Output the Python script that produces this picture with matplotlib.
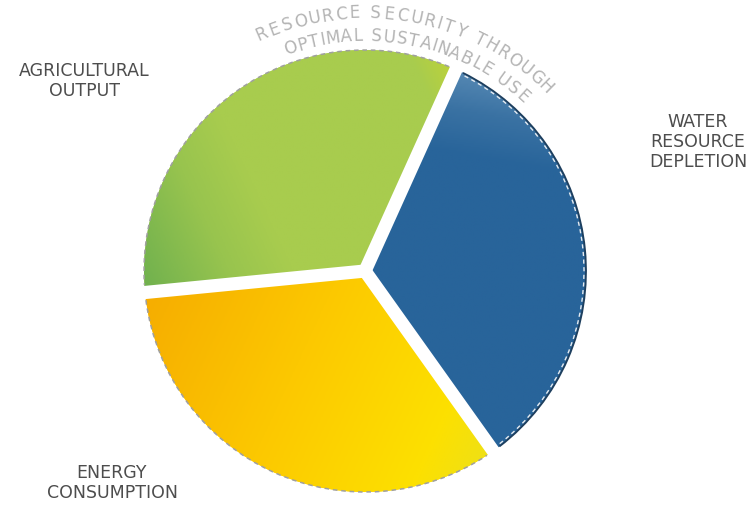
import numpy as np
import matplotlib
matplotlib.use("Agg")
import matplotlib.pyplot as plt
from matplotlib.patches import Arc
from matplotlib.colors import LinearSegmentedColormap

# slice data (clockwise from the top-right boundary)
categories = ["WATER\nRESOURCE\nDEPLETION", "ENERGY\nCONSUMPTION", "AGRICULTURAL\nOUTPUT"]
shares = [33.4, 33.3, 33.3]
arc_lines = ["RESOURCE SECURITY THROUGH", "OPTIMAL SUSTAINABLE USE"]

W, H = 755, 505
cx, cy = 365, H - 271
R = 221

fig = plt.figure(figsize=(W / 100, H / 100), dpi=100)
ax = fig.add_axes([0, 0, 1, 1])

wedges, _ = ax.pie(shares, startangle=65.7, counterclock=False,
                   center=(cx, cy), radius=R, colors=["#28649a", "#fbcc00", "#a8cc4e"],
                   wedgeprops=dict(linewidth=0))
ax.set_xlim(0, W)
ax.set_ylim(0, H)
ax.set_aspect("equal")
ax.axis("off")


def gradient(wedge, stops, angle_deg):
    # linear colour gradient clipped to the wedge
    cmap = LinearSegmentedColormap.from_list("g", stops)
    n = 300
    xs = np.linspace(cx - R, cx + R, n)
    ys = np.linspace(cy - R, cy + R, n)
    X, Y = np.meshgrid(xs, ys)
    a = np.deg2rad(angle_deg)
    t = ((X - cx) * np.cos(a) + (Y - cy) * np.sin(a)) / (2 * R) + 0.5
    t = np.clip(t, 0, 1)
    im = ax.imshow(cmap(t), extent=(cx - R, cx + R, cy - R, cy + R), origin="lower",
                   interpolation="bilinear", zorder=2)
    im.set_clip_path(wedge)


gradient(wedges[0], [(0, "#28649a"), (0.8, "#28649a"), (0.9, "#3a72a3"), (1, "#5a8cb6")], 80)
gradient(wedges[1], [(0, "#f5a800"), (0.45, "#fcc800"), (0.8, "#fde000"), (1, "#e8e020")], -25)
gradient(wedges[2], [(0, "#6aae4e"), (0.22, "#98c44e"), (0.35, "#a8cc4e"),
                     (0.8, "#a8cc4e"), (1, "#dcdc1c")], 25)

# white gaps between slices
for w in wedges:
    a = np.deg2rad(w.theta1)
    ax.plot([cx, cx + (R + 8) * np.cos(a)], [cy, cy + (R + 8) * np.sin(a)],
            color="white", lw=9.5, solid_capstyle="round", zorder=3)

# rims: dark edge with light dashes on the blue slice, grey dashes elsewhere
b = wedges[0]
ax.add_patch(Arc((cx, cy), 2 * R, 2 * R, theta1=b.theta1 + 2, theta2=b.theta2 - 2,
                 lw=1.3, color="#1e3f5e", zorder=4))
ax.add_patch(Arc((cx, cy), 2 * R - 4, 2 * R - 4, theta1=b.theta1 + 2.5, theta2=b.theta2 - 2.5,
                 ls=(0, (3, 2.5)), lw=1.0, color="#e6ebf0", zorder=4))
for w in wedges[1:]:
    ax.add_patch(Arc((cx, cy), 2 * R, 2 * R, theta1=w.theta1 + 2, theta2=w.theta2 - 2,
                     ls=(0, (3, 2.5)), lw=1.1, color="#a0a0a0", zorder=4))

# outer labels
lab_font = dict(fontsize=12.5, color="#4d4d4d", ha="center", va="center",
                multialignment="center", linespacing=1.15, family="DejaVu Sans")
ax.text(698, H - 142, categories[0], **lab_font)
ax.text(112, H - 483, categories[1], **lab_font)
ax.text(84, H - 81, categories[2], **lab_font)

# curved text along the top of the pie
narrow = {"I": 0.45, " ": 0.55, "M": 1.15, "L": 0.85, "T": 0.95}
arc_specs = [(arc_lines[0], 258, 113.5, 45.5), (arc_lines[1], 235, 108.5, 48.0)]
for line, rad, a_start, a_end in arc_specs:
    widths = np.array([narrow.get(ch, 1.0) for ch in line])
    centers = np.cumsum(widths) - widths / 2
    centers = (centers - centers[0]) / (centers[-1] - centers[0])
    for ch, f in zip(line, centers):
        ang = a_start + (a_end - a_start) * f
        a = np.deg2rad(ang)
        ax.text(cx + rad * np.cos(a), cy + rad * np.sin(a), ch, fontsize=12,
                family="DejaVu Sans", color="#b4b4b4", rotation=ang - 90,
                rotation_mode="anchor", ha="center", va="center", zorder=5)

fig.savefig("out.png", dpi=100, facecolor="white")
